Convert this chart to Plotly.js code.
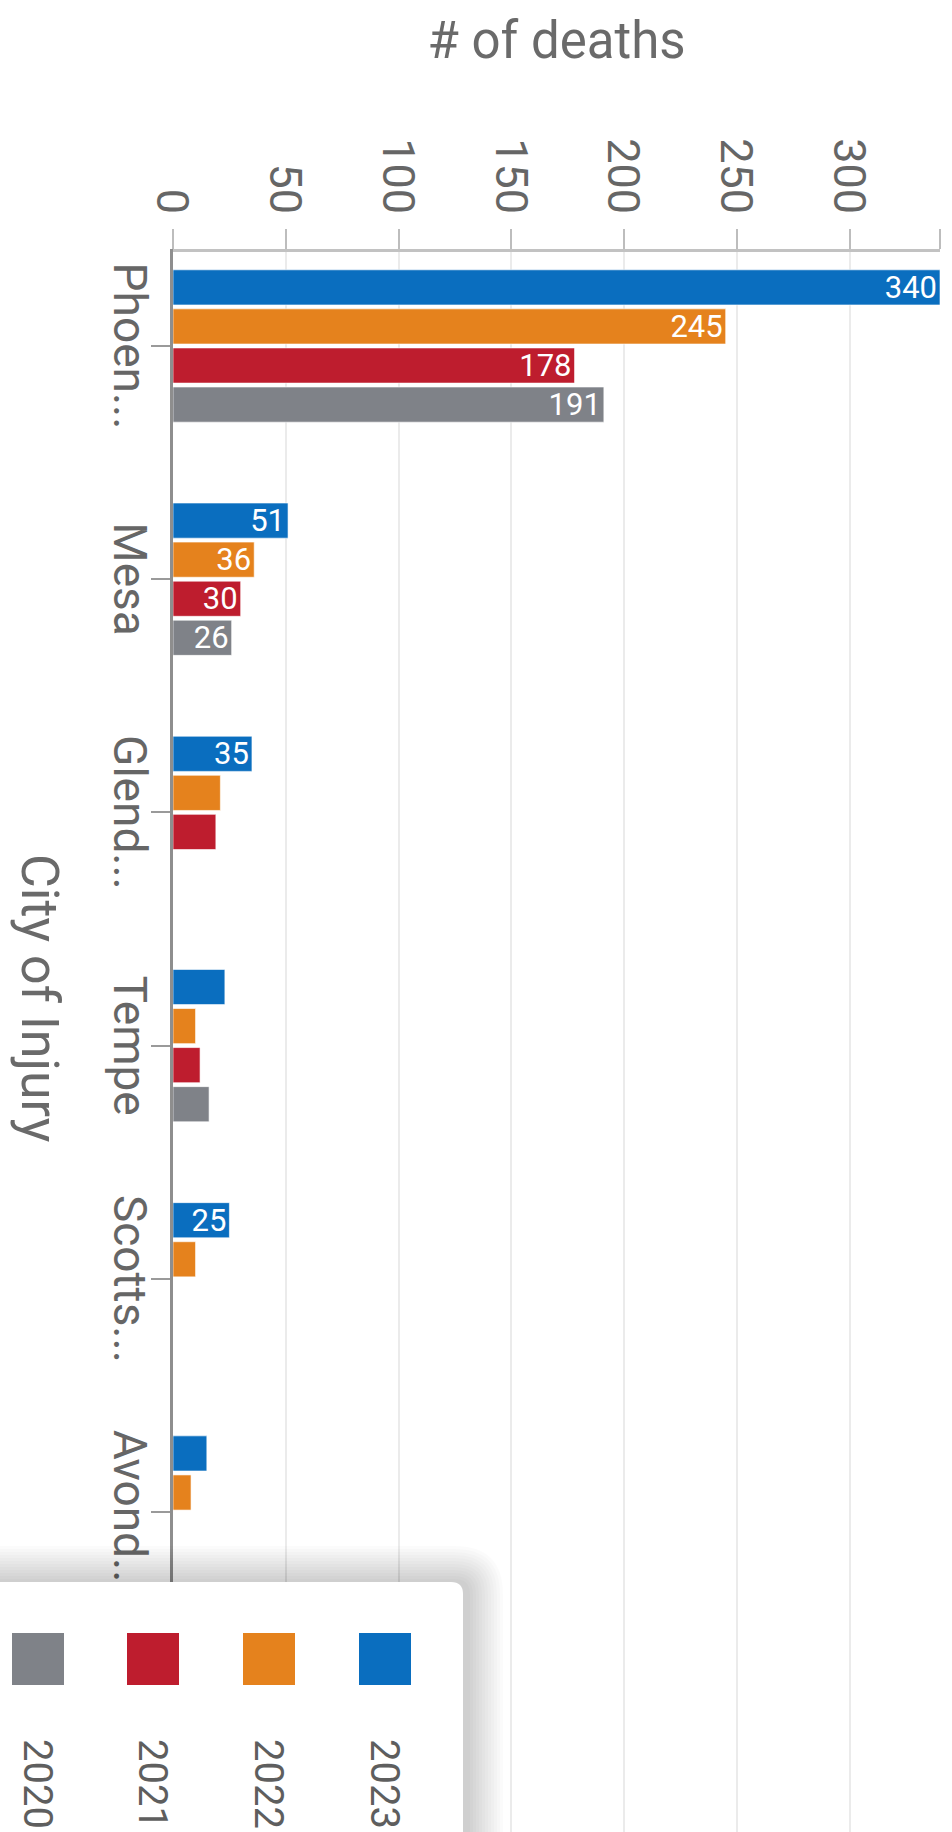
<!DOCTYPE html>
<html>
<head>
<meta charset="utf-8">
<script src="https://cdn.plot.ly/plotly-3.0.1.min.js"></script>
<style>
html, body { margin:0; padding:0; background:#ffffff; width:952px; height:1832px; overflow:hidden; }
#chart { position:absolute; left:0; top:0; width:1832px; height:952px;
         transform-origin:0 0; transform:translateX(952px) rotate(90deg); }
</style>
</head>
<body>
<div id="chart"></div>
<script>
// ---- data ----
const cities = ['Phoen...', 'Mesa', 'Glend...', 'Tempe', 'Scotts...', 'Avond...'];
const years = ['2023', '2022', '2021', '2020'];
const deaths2023 = [340, 51, 35, 23, 25, 15];
const deaths2022 = [245, 36, 21, 10, 10, 8];
const deaths2021 = [178, 30, 19, 12, null, null];
const deaths2020 = [191, 26, null, 16, null, null];
const valueTicks = [0, 50, 100, 150, 200, 250, 300];
const valueMax = 340;
const xTitle = 'City of Injury';
const yTitle = '# of deaths';

// ---- style ----
const seriesColors = ['#0a6ebf', '#e5821d', '#be1d2e', '#7f8288'];
const series = [deaths2023, deaths2022, deaths2021, deaths2020];
const FONT = 'Roboto, "Open Sans", sans-serif';
const W = 1832, H = 952;
const M = {l: 252, r: 0, t: 12, b: 173};
const PW = W - M.l - M.r, PH = H - M.t - M.b;
const px = v => (v - M.l) / PW;          // pixel -> paper x
const py = v => (H - M.b - v) / PH;      // pixel -> paper y

const traces = series.map((vals, i) => ({
  type: 'bar',
  name: years[i],
  x: cities,
  y: vals,
  marker: {color: seriesColors[i], line: {color: 'rgba(255,255,255,0.6)', width: 1}},
  text: vals.map(v => (v !== null && v >= 25) ? String(v) : ''),
  textposition: 'inside',
  insidetextanchor: 'end',
  textangle: -90,
  constraintext: 'none',
  textfont: {family: FONT, size: 31, color: '#ffffff'},
  cliponaxis: false,
  showlegend: false,
  hoverinfo: 'none'
}));

// ---- hand-made legend (box with shadow, swatches, labels) ----
const shapes = [];
const annotations = [];
const boxL = 1582, boxT = 489, boxR = 1845, boxB = 965, rad = 12;
function roundedBox(l, t, r, b, rr) {
  return 'M' + px(l) + ',' + py(b) + ' L' + px(l) + ',' + py(t + rr) +
         ' Q' + px(l) + ',' + py(t) + ' ' + px(l + rr) + ',' + py(t) +
         ' L' + px(r) + ',' + py(t) + ' L' + px(r) + ',' + py(b) + ' Z';
}
for (let k = 12; k >= 1; k--) {
  const s = k * 3;
  shapes.push({type: 'path', xref: 'paper', yref: 'paper', layer: 'above',
    path: roundedBox(boxL - s, boxT - s - 4, boxR, boxB, rad + s),
    fillcolor: 'rgba(0,0,0,0.014)', line: {width: 0}});
}
shapes.push({type: 'path', xref: 'paper', yref: 'paper', layer: 'above',
  path: roundedBox(boxL, boxT, boxR, boxB, rad),
  fillcolor: '#ffffff', line: {width: 0}});

const itemCenters = [567, 683, 799, 914];
years.forEach((yr, i) => {
  const c = itemCenters[i];
  shapes.push({type: 'rect', xref: 'paper', yref: 'paper', layer: 'above',
    x0: px(1633), x1: px(1685), y0: py(c + 26), y1: py(c - 26),
    fillcolor: seriesColors[i], line: {width: 0}});
  annotations.push({xref: 'paper', yref: 'paper', x: px(1737), y: py(c),
    xanchor: 'left', yanchor: 'middle', showarrow: false, text: yr,
    font: {family: FONT, size: 40, color: '#5e5e5e'}});
});

// x axis title placed as in the reference
annotations.push({xref: 'paper', yref: 'paper', x: px(998), y: py(912),
  xanchor: 'center', yanchor: 'middle', showarrow: false, text: xTitle,
  font: {family: FONT, size: 52, color: '#6a6a6a'}});

const layout = {
  width: W, height: H,
  margin: M,
  paper_bgcolor: '#ffffff', plot_bgcolor: '#ffffff',
  font: {family: FONT, color: '#666666'},
  barmode: 'group', bargap: 0.33, bargroupgap: 0.1,
  showlegend: false,
  xaxis: {
    type: 'category', range: [-0.403, 6.372], automargin: false,
    showline: true, linecolor: '#8e8e8e', linewidth: 3,
    ticks: 'outside', ticklen: 19, tickwidth: 2, tickcolor: '#9a9a9a',
    tickfont: {family: FONT, size: 46, color: '#666666'},
    ticklabelstandoff: -18,
    showgrid: false, zeroline: false
  },
  yaxis: {
    range: [0, valueMax], automargin: false,
    tickmode: 'array',
    tickvals: valueTicks.concat([valueMax]),
    ticktext: valueTicks.map(String).concat(['']),
    showline: true, linecolor: '#c2c2c2', linewidth: 3,
    ticks: 'outside', ticklen: 20, tickwidth: 2, tickcolor: '#bdbdbd',
    tickfont: {family: FONT, size: 45, color: '#666666'},
    ticklabelstandoff: 6,
    showgrid: true, gridcolor: '#ebebeb', gridwidth: 2,
    zeroline: false,
    title: {text: yTitle, font: {family: FONT, size: 51, color: '#6a6a6a'}, standoff: 64}
  },
  shapes: shapes,
  annotations: annotations
};

Plotly.newPlot('chart', traces, layout, {staticPlot: true, displayModeBar: false});
</script>
</body>
</html>
